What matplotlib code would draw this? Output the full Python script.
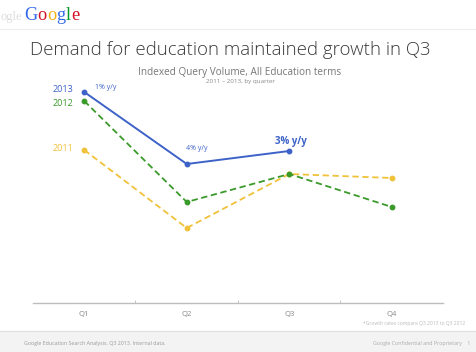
import matplotlib
matplotlib.use("Agg")
import matplotlib.pyplot as plt
from matplotlib.patches import Rectangle
from matplotlib.lines import Line2D

quarters = ["Q1", "Q2", "Q3", "Q4"]
y2013 = [211, 139, 152]
y2012 = [202, 101, 129, 96]
y2011 = [153, 75, 129, 125]
yoy_labels = ["1% y/y", "4% y/y", "3% y/y"]

BLUE = "#3d62c8"
GREEN = "#3a9a2a"
YELLOW = "#f0c23a"

W, H = 477, 352
fig = plt.figure(figsize=(W / 100, H / 100), dpi=100)
fig.patch.set_facecolor("white")

def fx(px):
    return px / W

def fy(py):
    return 1 - py / H

# footer band
fig.patches.append(Rectangle((0, 0), 1, fy(331), transform=fig.transFigure,
                             facecolor="#f3f3f3", edgecolor="none", zorder=0))
fig.lines.append(Line2D([0, 1], [fy(331), fy(331)], transform=fig.transFigure,
                        color="#e2e2e2", lw=1))
fig.lines.append(Line2D([0, 1], [fy(29), fy(29)], transform=fig.transFigure,
                        color="#eeeeee", lw=0.8))

ax = fig.add_axes([fx(33), fy(303), fx(443) - fx(33), fy(60) - fy(303)])
ax.set_xlim(-0.5, 3.5)
ax.set_ylim(0, 243)
for s in ["top", "right", "left"]:
    ax.spines[s].set_visible(False)
ax.spines["bottom"].set_color("#bdbdbd")
ax.spines["bottom"].set_linewidth(1)
ax.set_yticks([])
ax.set_xticks(range(4))
ax.set_xticklabels(quarters, fontsize=5.5, color="#888888", family="Open Sans")
ax.tick_params(axis="x", which="major", length=0, pad=6)
ax.set_xticks([0.5, 1.5, 2.5], minor=True)
ax.tick_params(axis="x", which="minor", direction="in", length=2.5, color="#bdbdbd")
ax.patch.set_alpha(0)

ax.plot(range(4), y2011, color=YELLOW, lw=1.3, ls=(0, (3.5, 2)), marker="o", ms=3.2, zorder=2)
ax.plot(range(4), y2012, color=GREEN, lw=1.3, ls=(0, (3.5, 2)), marker="o", ms=3.2, zorder=3)
ax.plot(range(3), y2013, color=BLUE, lw=1.4, marker="o", ms=3.2, zorder=4)

# series labels
ax.annotate("2013", (0, y2013[0]), xytext=(-8, 2), textcoords="offset points",
            ha="right", va="center", fontsize=6.5, color=BLUE, family="Open Sans")
ax.annotate("2012", (0, y2012[0]), xytext=(-8, -2), textcoords="offset points",
            ha="right", va="center", fontsize=6.5, color=GREEN, family="Open Sans")
ax.annotate("2011", (0, y2011[0]), xytext=(-8, 1), textcoords="offset points",
            ha="right", va="center", fontsize=6.5, color=YELLOW, family="Open Sans")

ax.annotate(yoy_labels[0], (0, y2013[0]), xytext=(8, 3), textcoords="offset points",
            ha="left", va="center", fontsize=5, color=BLUE, family="Open Sans")
ax.annotate(yoy_labels[1], (1, y2013[1]), xytext=(7, 11), textcoords="offset points",
            ha="center", va="center", fontsize=5, color=BLUE, family="Open Sans")
ax.annotate(yoy_labels[2], (2, y2013[2]), xytext=(1, 7), textcoords="offset points",
            ha="center", va="center", fontsize=7, color=BLUE, family="Open Sans",
            fontweight="bold")

# titles
fig.text(fx(30), fy(50), "Demand for education maintained growth in Q3", ha="left",
         va="center", fontsize=13.4, color="#3a3a3a", family="Open Sans", fontweight="light")
fig.text(fx(240), fy(72), "Indexed Query Volume, All Education terms", ha="center",
         va="center", fontsize=7.2, color="#777777", family="Open Sans")
fig.text(fx(240), fy(82), "2011 \u2013 2013, by quarter", ha="center",
         va="center", fontsize=4.5, color="#888888", family="Open Sans")

# google logo: place letters side by side using measured widths
letters = [("G", "#3369e8"), ("o", "#d50f25"), ("o", "#eeb211"),
           ("g", "#3369e8"), ("l", "#009925"), ("e", "#d50f25")]
renderer = fig.canvas.get_renderer()
x0 = 24.0
for ch, col in letters:
    t = fig.text(fx(x0), fy(20), ch, ha="left", va="baseline", fontsize=13.2,
                 color=col, family="Liberation Serif")
    bb = t.get_window_extent(renderer=renderer)
    x0 += bb.width + 0.2
fig.text(fx(22), fy(20), "ogle", ha="right", va="baseline", fontsize=9,
         color="#dddddd", family="Liberation Serif", zorder=0)

# footnotes
fig.text(fx(465), fy(324), "*Growth rates compare Q3 2013 to Q3 2012", ha="right",
         va="center", fontsize=3.6, color="#bbbbbb", family="Open Sans")
fig.text(fx(24), fy(343), "Google Education Search Analysis, Q3 2013. Internal data.",
         ha="left", va="center", fontsize=3.8, color="#999999", family="Open Sans")
fig.text(fx(470), fy(343), "Google Confidential and Proprietary    1",
         ha="right", va="center", fontsize=3.8, color="#aaaaaa", family="Open Sans")

fig.savefig("out.png", dpi=100)
